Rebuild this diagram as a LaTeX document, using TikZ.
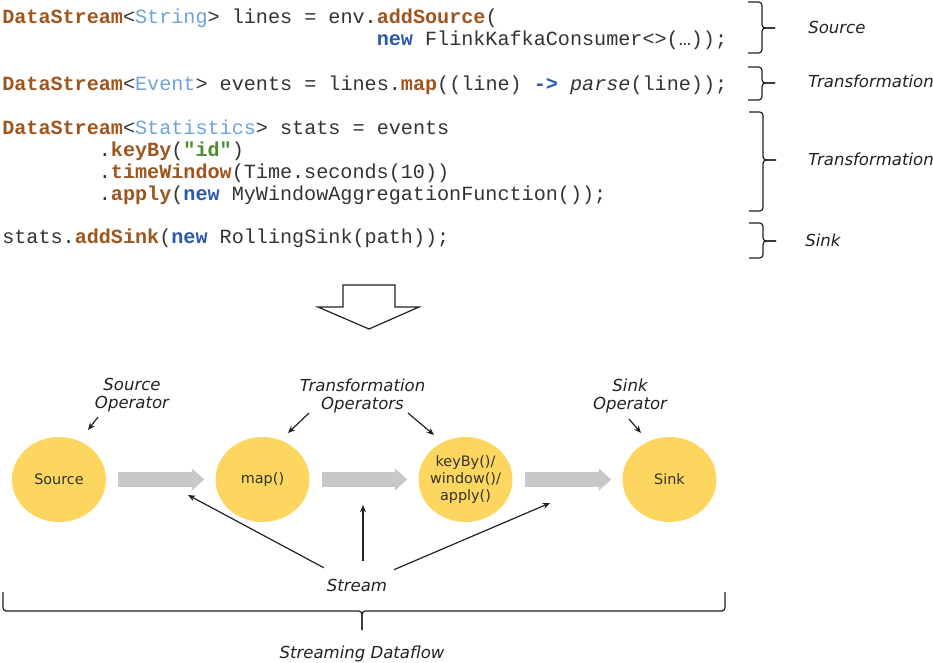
\documentclass[tikz,border=0pt]{standalone}
\usepackage{fontspec}
\usetikzlibrary{arrows.meta,shapes.geometric}
\newfontfamily\codefont{Liberation Mono}
\newfontfamily\lblfont{DejaVu Sans}
\definecolor{kwbrown}{RGB}{158,86,30}
\definecolor{tyblue}{RGB}{111,164,216}
\definecolor{nwblue}{RGB}{42,90,170}
\definecolor{strgreen}{RGB}{76,140,43}
\definecolor{codegray}{RGB}{51,51,51}
\definecolor{opyellow}{RGB}{252,214,94}
\definecolor{flowgray}{RGB}{200,200,200}
\definecolor{inkc}{RGB}{34,34,34}
\newcommand\cdkw[1]{\textbf{\textcolor{kwbrown}{#1}}}
\newcommand\cdty[1]{\textcolor{tyblue}{#1}}
\newcommand\cdnew[1]{\textbf{\textcolor{nwblue}{#1}}}
\newcommand\cdstr[1]{\textbf{\textcolor{strgreen}{#1}}}
\begin{document}
\begin{tikzpicture}[x=0.75pt,y=-0.75pt,
  code/.style={anchor=base west, inner sep=0pt, font=\codefont\fontsize{15.1}{18}\selectfont, text=codegray},
  side/.style={anchor=base west, inner sep=0pt, font=\lblfont\itshape\fontsize{12.4}{15}\selectfont, text=inkc},
  oplbl/.style={align=center, inner sep=0pt, font=\lblfont\itshape\fontsize{12.4}{13.5}\selectfont, text=inkc},
  op/.style={ellipse, fill=opyellow, minimum width=70.5pt, minimum height=63.75pt, inner sep=-6pt, align=center, font=\lblfont\fontsize{10.8}{12.4}\selectfont, text=codegray},
  streamlbl/.style={ellipse, minimum width=72.75pt, minimum height=36pt, inner sep=1pt, font=\lblfont\itshape\fontsize{12.4}{15}\selectfont, text=inkc},
  flow/.style={draw=flowgray, line width=11.25pt, -{Triangle[length=9.2pt,width=16.5pt,line width=0pt]}, shorten <=9pt, shorten >=8.25pt},
  ptr/.style={draw=inkc, line width=0.9pt, -{Stealth[length=5.5pt,width=4.5pt]}},
  brc/.style={draw=inkc, line width=0.9pt, rounded corners=2.5pt}
]
\path[use as bounding box, fill=white] (0,0) rectangle (933,662);

% code
\node[code] (c1) at (2,23) {\cdkw{DataStream}<\cdty{String}> lines = env.\cdkw{addSource}(};
\node[code] (c2) at (376.5,45) {\cdnew{new} FlinkKafkaConsumer<>(…));};
\node[code] (c3) at (2,90) {\cdkw{DataStream}<\cdty{Event}> events = lines.\cdkw{map}((line) \cdnew{->} \textit{parse}(line));};
\node[code] (c4) at (2,134) {\cdkw{DataStream}<\cdty{Statistics}> stats = events};
\node[code] (c5) at (98.6,156) {.\cdkw{keyBy}(\cdstr{"id"})};
\node[code] (c6) at (98.6,178) {.\cdkw{timeWindow}(Time.seconds(10))};
\node[code] (c7) at (98.6,200) {.\cdkw{apply}(\cdnew{new} MyWindowAggregationFunction());};
\node[code] (c8) at (2,243) {stats.\cdkw{addSink}(\cdnew{new} RollingSink(path));};

% right braces
\draw[brc] (748,2) -- (762,2) -- (762,28) -- (775,28);
\draw[brc] (748,53) -- (762,53) -- (762,28) -- (775,28);
\draw[brc] (748,67) -- (762,67) -- (762,83) -- (775,83);
\draw[brc] (748,100) -- (762,100) -- (762,83) -- (775,83);
\draw[brc] (749,112) -- (763,112) -- (763,160) -- (776,160);
\draw[brc] (749,211) -- (763,211) -- (763,160) -- (776,160);
\draw[brc] (749,223) -- (763,223) -- (763,241) -- (776,241);
\draw[brc] (749,258) -- (763,258) -- (763,241) -- (776,241);

\node[side] (l1) at (808,33.5) {Source};
\node[side] (l2) at (808,87.5) {Transformation};
\node[side] (l3) at (808,165.5) {Transformation};
\node[side] (l4) at (805,246.5) {Sink};

% hollow down arrow
\draw[draw=inkc, line width=0.9pt, line join=miter] (343,285) -- (395,285) -- (395,307) -- (419,307) -- (369,329) -- (318,307) -- (343,307) -- cycle;

% operators
\node[op] (src) at (59,479.5) {Source};
\node[op] (map) at (262.5,479.5) {map()};
\node[op] (agg) at (465.5,479.5) {keyBy()/\\window()/\\apply()};
\node[op] (sink) at (669.5,479.5) {Sink};

\draw[flow] (src.east) -- (map.west);
\draw[flow] (map.east) -- (agg.west);
\draw[flow] (agg.east) -- (sink.west);

% operator labels
\node[oplbl] (srcop) at (132,395.5) {Source\\Operator};
\node[oplbl] (trop) at (362.5,395.5) {Transformation\\Operators};
\node[oplbl] (sinkop) at (630,395.5) {Sink\\Operator};
\coordinate (p1) at (88,430);
\coordinate (p2) at (288,433);
\coordinate (p3) at (434,435);
\coordinate (p4) at (641,433);
\draw[ptr] ([shift={(-34,21.5)}]srcop.center) -- (p1);
\draw[ptr] ([shift={(-53.5,17.5)}]trop.center) -- (p2);
\draw[ptr] ([shift={(45.5,17.5)}]trop.center) -- (p3);
\draw[ptr] ([shift={(-1,23.5)}]sinkop.center) -- (p4);

% stream
\node[streamlbl] (stream) at (357,585.5) {Stream};
\coordinate (t1) at (188,495);
\coordinate (t2) at (363,505);
\coordinate (t3) at (550,503);
\draw[ptr] (stream) -- (t1);
\draw[ptr] (stream.north -| t2) -- (t2);
\draw[ptr] (stream) -- (t3);

% bottom brace
\draw[brc] (3,592) -- (3,611) -- (362,611) -- (362,630);
\draw[brc] (725,592) -- (725,611) -- (362,611) -- (362,630);
\node[oplbl] (flowlbl) at (362,654) {Streaming Dataflow};
\end{tikzpicture}
\end{document}
